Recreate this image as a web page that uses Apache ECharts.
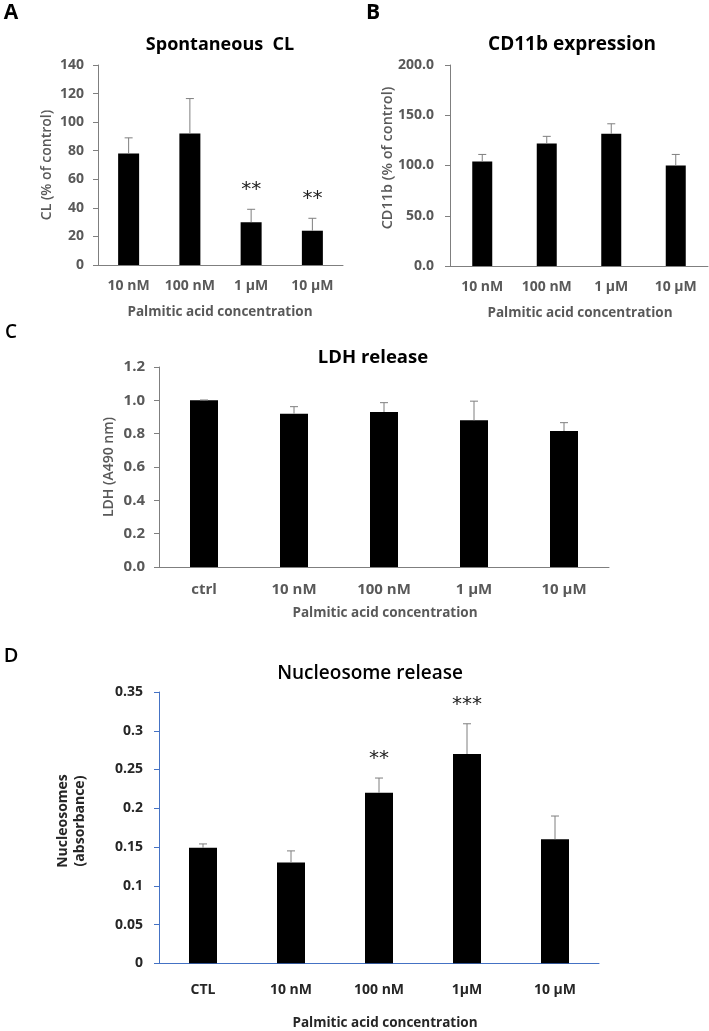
<!DOCTYPE html>
<html><head><meta charset="utf-8">
<script src="https://cdn.jsdelivr.net/npm/echarts@6/dist/echarts.min.js"></script>
<style>html,body{margin:0;padding:0;background:#fff}#c{width:709px;height:1031px}</style>
</head><body><div id="c"></div>
<script>
// ---- data ----
const catsA = ['10 nM', '100 nM', '1 µM', '10 µM'];
const valsA = [78, 92, 30, 24];
const errA = [11, 24.5, 9, 8.7];
const sigA = ['', '', '**', '**'];

const catsB = ['10 nM', '100 nM', '1 µM', '10 µM'];
const valsB = [104, 122, 131.5, 100];
const errB = [7, 7, 10, 11];

const catsC = ['ctrl', '10 nM', '100 nM', '1 µM', '10 µM'];
const valsC = [1.0, 0.92, 0.93, 0.88, 0.816];
const errC = [0.002, 0.042, 0.056, 0.115, 0.05];

const catsD = ['CTL', '10 nM', '100 nM', '1µM', '10 µM'];
const valsD = [0.149, 0.13, 0.22, 0.27, 0.16];
const errD = [0.005, 0.015, 0.019, 0.039, 0.03];
const sigD = ['', '', '**', '***', ''];

const titles = ['Spontaneous  CL', 'CD11b expression', 'LDH release', 'Nucleosome release'];
const yNames = ['CL (% of control)', 'CD11b (% of control)', 'LDH (A490 nm)', 'Nucleosomes\n(absorbance)'];
const xName = 'Palmitic acid concentration';
const letters = ['A', 'B', 'C', 'D'];

// ---- chart ----
const FONT = '"Open Sans", "Noto Sans", sans-serif';
const GRAY = '#595959';
const chart = echarts.init(document.getElementById('c'), null, {renderer: 'canvas'});

const grids = [
  {left: 98, top: 65, width: 245, height: 200},
  {left: 450, top: 65, width: 258, height: 201},
  {left: 159, top: 367, width: 450, height: 200},
  {left: 159, top: 692, width: 440, height: 271.3}
];
grids.forEach(g => { g.outerBoundsMode = 'none'; g.containLabel = false; });

const panels = [
  {cats: catsA, vals: valsA, err: errA, sig: sigA, min: 0, max: 140, interval: 20, dec: 0, bw: 21, axisColor: '#7f7f7f', labColor: GRAY, xMargin: 14, yMargin: 14, fs: 14},
  {cats: catsB, vals: valsB, err: errB, sig: null, min: 0, max: 200, interval: 50, dec: 1, bw: 20, axisColor: '#7f7f7f', labColor: GRAY, xMargin: 14, yMargin: 16, fs: 14},
  {cats: catsC, vals: valsC, err: errC, sig: null, min: 0, max: 1.2, interval: 0.2, dec: 1, bw: 28, axisColor: '#7f7f7f', labColor: GRAY, xMargin: 15, yMargin: 14, fs: 15},
  {cats: catsD, vals: valsD, err: errD, sig: sigD, min: 0, max: 0.35, interval: 0.05, dec: -1, bw: 28, axisColor: '#4472c4', labColor: '#262626', xMargin: 20, yMargin: 16, fs: 14}
];

const xAxis = [], yAxis = [], series = [];
panels.forEach((p, i) => {
  xAxis.push({
    type: 'category', gridIndex: i, data: p.cats,
    axisLine: {lineStyle: {color: p.axisColor, width: 1}},
    axisTick: {show: false},
    axisLabel: {color: p.labColor, fontFamily: FONT, fontWeight: 'bold', fontSize: p.fs, margin: p.xMargin, interval: 0, hideOverlap: false}
  });
  yAxis.push({
    type: 'value', gridIndex: i, min: p.min, max: p.max, interval: p.interval,
    axisLine: {show: true, lineStyle: {color: p.axisColor, width: 1}},
    axisTick: {show: true, length: 5, lineStyle: {color: p.axisColor}},
    splitLine: {show: false},
    axisLabel: {color: p.labColor, fontFamily: FONT, fontWeight: 'bold', fontSize: p.fs, margin: p.yMargin,
      formatter: v => p.dec >= 0 ? v.toFixed(p.dec) : String(+v.toFixed(2))}
  });
  series.push({
    type: 'bar', xAxisIndex: i, yAxisIndex: i, data: p.vals, barWidth: p.bw,
    itemStyle: {color: '#000'}, silent: true, animation: false
  });
  series.push({
    type: 'custom', xAxisIndex: i, yAxisIndex: i, animation: false, silent: true, z: 5,
    data: p.vals.map((v, k) => [k, v, p.err[k], p.sig ? p.sig[k] : '']),
    renderItem: function (params, api) {
      const k = api.value(0), v = api.value(1), e = api.value(2);
      const s = p.sig ? p.sig[k] : '';
      const a = api.coord([k, v]);
      const b = api.coord([k, v + e]);
      const children = [
        {type: 'line', shape: {x1: a[0], y1: a[1], x2: b[0], y2: b[1]}, style: {stroke: '#7f7f7f', lineWidth: 1}},
        {type: 'line', shape: {x1: b[0] - 4, y1: b[1], x2: b[0] + 4, y2: b[1]}, style: {stroke: '#7f7f7f', lineWidth: 1}}
      ];
      if (s) {
        children.push({type: 'text', x: b[0], y: b[1] - 9,
          style: {text: s, fill: '#222', font: '20px "DejaVu Sans", sans-serif', align: 'center', verticalAlign: 'bottom'}});
      }
      return {type: 'group', children: children};
    }
  });
});

function txt(x, y, text, size, color, weight, rot) {
  return {type: 'text', x: x, y: y, rotation: rot || 0, silent: true,
    style: {text: text, fill: color, font: (weight || 'bold') + ' ' + size + 'px ' + FONT, align: 'center', verticalAlign: 'middle', lineHeight: size + 3}};
}
const graphic = [
  txt(11, 13, letters[0], 21, '#000', 'bold'),
  txt(373, 13, letters[1], 21, '#000', 'bold'),
  txt(11, 333, letters[2], 19, '#000', '600'),
  txt(11, 656, letters[3], 20, '#000', '600'),
  txt(220, 45, titles[0], 18, '#000', 'bold'),
  txt(572, 45, titles[1], 19, '#000', 'bold'),
  txt(373, 358, titles[2], 18.5, '#000', 'bold'),
  txt(370, 674, titles[3], 19, '#000', '600'),
  txt(47, 165, yNames[0], 14, GRAY, '600', Math.PI / 2),
  txt(388, 158, yNames[1], 14.5, GRAY, '600', Math.PI / 2),
  txt(109, 467, yNames[2], 14, GRAY, '600', Math.PI / 2),
  txt(72, 821, yNames[3], 14, '#262626', 'bold', Math.PI / 2),
  txt(220, 312, xName, 13.5, GRAY, 'bold'),
  txt(580, 313, xName, 13.5, GRAY, 'bold'),
  txt(385, 613, xName, 13.5, GRAY, 'bold'),
  txt(385, 1023, xName, 13.5, '#262626', 'bold')
];

chart.setOption({
  animation: false,
  backgroundColor: '#fff',
  grid: grids, xAxis: xAxis, yAxis: yAxis, series: series, graphic: graphic
});
</script></body></html>
